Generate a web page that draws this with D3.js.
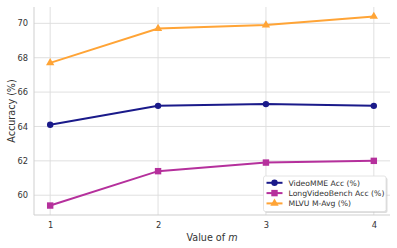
<!DOCTYPE html>
<meta charset="utf-8">
<head>
  <script src="https://d3js.org/d3.v7.min.js"></script>
  <style>
    body { margin: 0; background: #fff; }
    text { font-family: "DejaVu Sans", sans-serif; fill: #333; }
    .grid line { stroke: #dcdcdc; stroke-width: 0.9; }
  </style>
</head>
<body>
<div id="chart"></div>
<script>
  // data
  var mValues = [1, 2, 3, 4];
  var videoMME = [64.1, 65.2, 65.3, 65.2];
  var longVideoBench = [59.4, 61.4, 61.9, 62.0];
  var mlvu = [67.7, 69.7, 69.9, 70.4];
  var yTicks = [60, 62, 64, 66, 68, 70];
  var seriesNames = ["VideoMME Acc (%)", "LongVideoBench Acc (%)", "MLVU M-Avg (%)"];

  var series = [
    { name: seriesNames[0], values: videoMME, color: "#1a1a8a", marker: "circle" },
    { name: seriesNames[1], values: longVideoBench, color: "#b5309c", marker: "square" },
    { name: seriesNames[2], values: mlvu, color: "#ffa436", marker: "triangle" }
  ];

  var W = 397, H = 248;
  var margin = { top: 7, right: 7, bottom: 33, left: 34 },
    width = W - margin.left - margin.right,
    height = H - margin.top - margin.bottom;

  var svg = d3.select("#chart").append("svg")
    .attr("width", W).attr("height", H)
    .append("g")
    .attr("transform", "translate(" + margin.left + "," + margin.top + ")");

  var x = d3.scaleLinear().domain([0.85, 4.15]).range([0, width]);
  var y = d3.scaleLinear().domain([58.85, 70.95]).range([height, 0]);

  // grid
  svg.append("g").attr("class", "grid")
    .selectAll("line.v").data(mValues).enter().append("line")
    .attr("x1", d => x(d)).attr("x2", d => x(d))
    .attr("y1", 0).attr("y2", height);
  svg.append("g").attr("class", "grid")
    .selectAll("line.h").data(yTicks).enter().append("line")
    .attr("x1", 0).attr("x2", width)
    .attr("y1", d => y(d)).attr("y2", d => y(d));

  // spines
  svg.append("line").attr("x1", 0).attr("x2", 0).attr("y1", 0).attr("y2", height)
    .attr("stroke", "#cfcfcf").attr("stroke-width", 1);
  svg.append("line").attr("x1", 0).attr("x2", width).attr("y1", height).attr("y2", height)
    .attr("stroke", "#cfcfcf").attr("stroke-width", 1);

  // axes
  var xAxis = svg.append("g")
    .attr("transform", "translate(0," + height + ")")
    .call(d3.axisBottom(x).tickValues(mValues).tickFormat(d3.format("d")).tickSize(0).tickPadding(7));
  xAxis.select(".domain").remove();
  xAxis.selectAll("text").style("font-size", "8.3px").style("fill", "#333");

  var yAxis = svg.append("g")
    .call(d3.axisLeft(y).tickValues(yTicks).tickSize(0).tickPadding(6));
  yAxis.select(".domain").remove();
  yAxis.selectAll("text").style("font-size", "8.3px").style("fill", "#333");

  // axis labels
  var xl = svg.append("text")
    .attr("x", width / 2).attr("y", height + 26)
    .attr("text-anchor", "middle").style("font-size", "9.6px");
  xl.append("tspan").text("Value of ");
  xl.append("tspan").style("font-style", "italic").text("m");

  svg.append("text")
    .attr("transform", "translate(" + (-19) + "," + (height / 2) + ") rotate(-90)")
    .attr("text-anchor", "middle").style("font-size", "9.6px")
    .text("Accuracy (%)");

  var line = d3.line().x((d, i) => x(mValues[i])).y(d => y(d));

  function drawMarker(g, type, color, cx, cy) {
    if (type === "circle") {
      g.append("circle").attr("cx", cx).attr("cy", cy).attr("r", 3.2).attr("fill", color);
    } else if (type === "square") {
      g.append("rect").attr("x", cx - 3.2).attr("y", cy - 3.2).attr("width", 6.4).attr("height", 6.4).attr("fill", color);
    } else {
      g.append("path").attr("d", d3.symbol().type(d3.symbolTriangle).size(30)())
        .attr("transform", "translate(" + cx + "," + cy + ")").attr("fill", color);
    }
  }

  series.forEach(function (s) {
    var g = svg.append("g");
    g.append("path").datum(s.values)
      .attr("fill", "none").attr("stroke", s.color).attr("stroke-width", 2)
      .attr("d", line);
    s.values.forEach(function (v, i) {
      drawMarker(g, s.marker, s.color, x(mValues[i]), y(v));
    });
  });

  // legend
  var lg = svg.append("g").attr("transform", "translate(" + (263.5 - margin.left) + "," + (176 - margin.top) + ")");
  lg.append("rect").attr("x", 1.5).attr("y", 1.5).attr("width", 122.5).attr("height", 35.5)
    .attr("rx", 2).attr("fill", "#bbb").attr("opacity", 0.5);
  lg.append("rect").attr("width", 122.5).attr("height", 35.5)
    .attr("rx", 2).attr("fill", "#fff").attr("stroke", "#ddd").attr("stroke-width", 0.8);
  series.forEach(function (s, i) {
    var cy = 6.8 + i * 10.3;
    lg.append("line").attr("x1", 3).attr("x2", 19).attr("y1", cy).attr("y2", cy)
      .attr("stroke", s.color).attr("stroke-width", 2);
    drawMarker(lg, s.marker, s.color, 11, cy);
    lg.append("text").attr("x", 25).attr("y", cy + 2.8).style("font-size", "7.7px").text(s.name);
  });
</script>
</body>
